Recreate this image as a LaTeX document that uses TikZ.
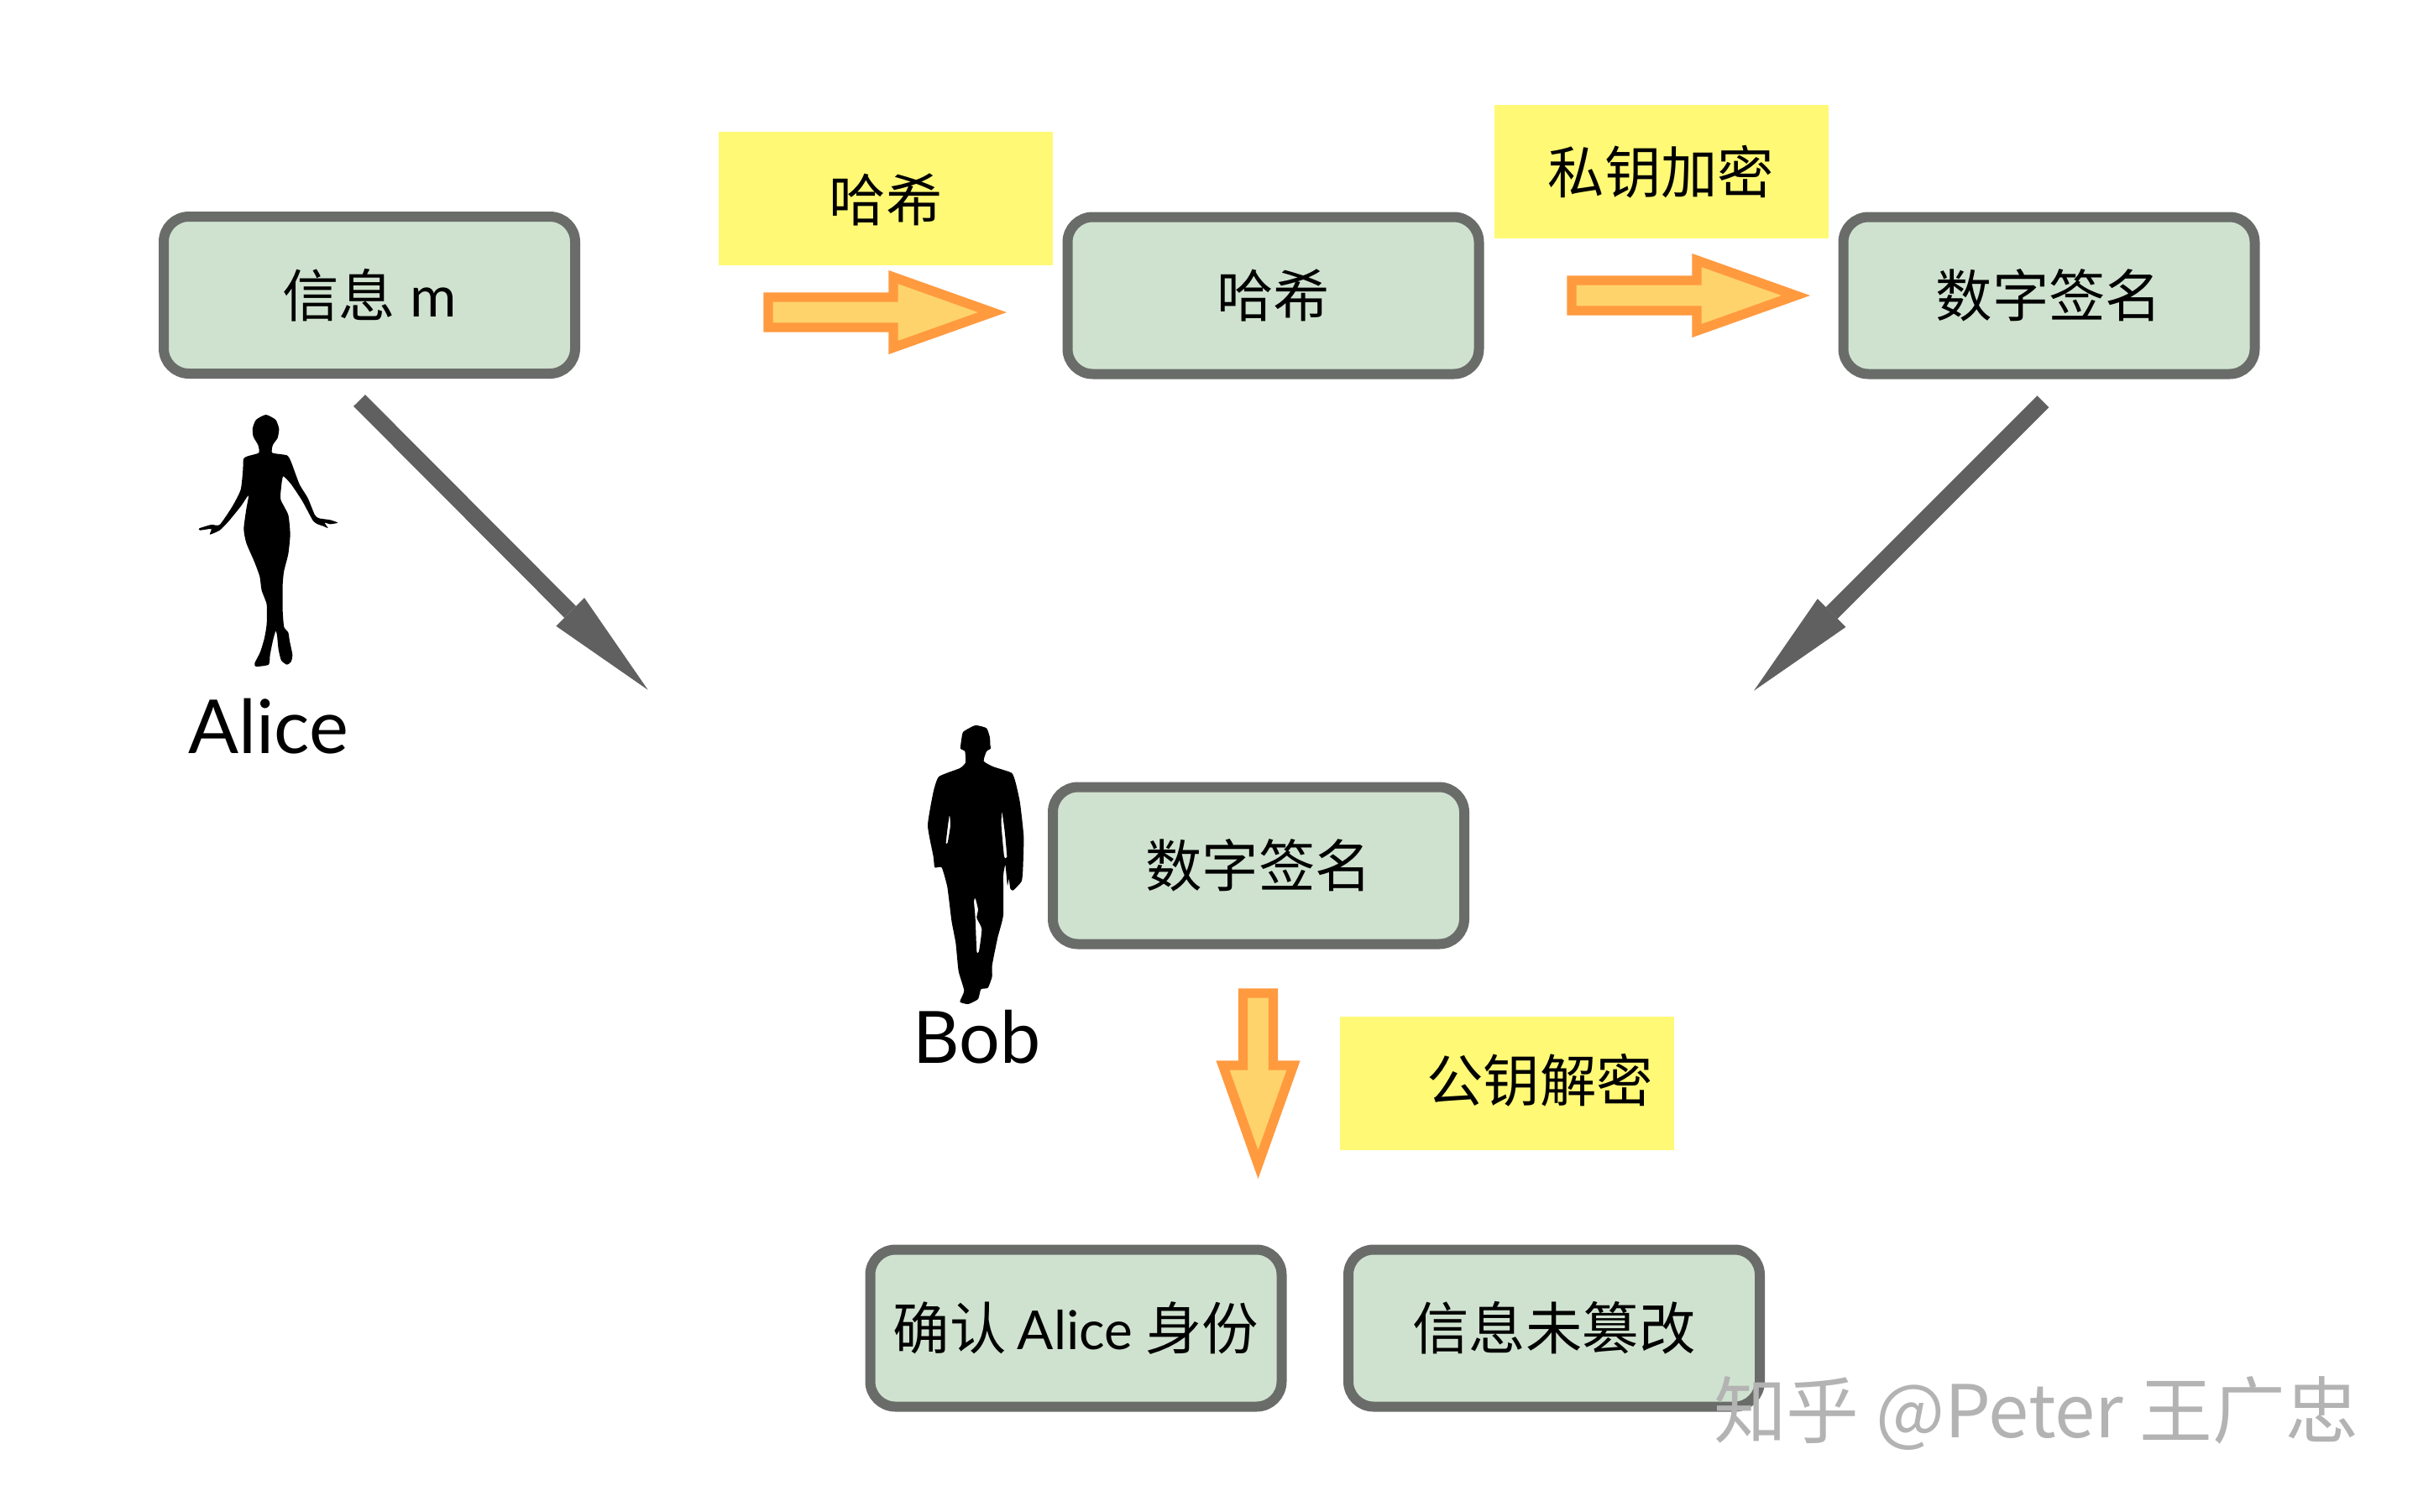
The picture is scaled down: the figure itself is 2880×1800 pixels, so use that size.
\documentclass[tikz,border=0pt]{standalone}
\usepackage{fontspec}
\setmainfont{Lato}
\newfontfamily\cjk{Noto Sans CJK SC}
\usetikzlibrary{arrows.meta}
\definecolor{boxfill}{HTML}{CFE2CF}
\definecolor{boxline}{HTML}{6A6C6A}
\definecolor{notefill}{HTML}{FFF975}
\definecolor{blockline}{HTML}{FF9A3F}
\definecolor{blockfill}{HTML}{FFD36C}
\definecolor{darkarrow}{HTML}{606060}
\definecolor{marktext}{HTML}{B3B3B3}
\tikzset{
  stepbox/.style={draw=boxline,fill=boxfill,line width=3pt,rounded corners=7.5pt,
    minimum width=122.5pt,minimum height=46.75pt,inner sep=0pt,text=black,
    font=\fontsize{16.85pt}{20pt}\selectfont},
  notebox/.style={fill=notefill,minimum width=99.5pt,minimum height=39.75pt,inner sep=0pt,text=black,
    font=\fontsize{16.85pt}{20pt}\selectfont},
  blockarrow/.style={draw=blockline,fill=blockfill,line width=2.85pt,miter limit=10,line join=miter},
  flowarrow/.style={draw=darkarrow,line width=4.9pt,
    -{Triangle[length=32.75pt 0 0,width=11.9pt 0 0,line width=0pt]}},
  personname/.style={anchor=base,text=black,font=\fontsize{22.2pt}{26pt}\selectfont},
  silhouette/.style={fill=black,even odd rule},
  watermark/.style={text=marktext,inner sep=0pt,font=\fontsize{21.7pt}{25pt}\selectfont\cjk}
}
\newcommand{\blockarrowat}[3]{%
  \draw[blockarrow,shift={(#1)},rotate=#3]
    (0,-18) -- (#2-118,-18) -- (#2-118,-42) -- (#2,0) -- (#2-118,42) -- (#2-118,18) -- (0,18) -- cycle;}
\begin{document}
\begin{tikzpicture}[x=0.25pt,y=-0.25pt]
\useasboundingbox (0,0) rectangle (2880,1800);
\fill[white] (0,0) rectangle (2880,1800);

% notes
\node[notebox] (n1) at (1055,236.5) {\raisebox{-0.45pt}[\height][\depth]{\cjk 哈希}};
\node[notebox] (n2) at (1978.5,204.5) {\cjk 私钥加密};
\node[notebox] (n3) at (1795,1290.5) {\hspace*{19.5pt}\raisebox{0.9pt}[\height][\depth]{\cjk 公钥解密}};

% boxes
\node[stepbox] (msg) at (440,351.5) {{\cjk 信息} m};
\node[stepbox] (hash) at (1516.5,352) {\cjk 哈希};
\node[stepbox] (sig) at (2440.5,352) {\cjk 数字签名};
\node[stepbox] (bobsig) at (1499,1031) {\cjk 数字签名};
\node[stepbox] (confirm) at (1281.5,1582) {{\cjk 确认}\hspace{-1pt} {\fontsize{16pt}{20pt}\selectfont Alice} \hspace{-0.5pt}{\cjk 身份}};
\node[stepbox] (intact) at (1851,1582) {\cjk 信息未篡改};

% block arrows
\coordinate (b1) at (915,372);
\coordinate (b2) at (1872,352);
\coordinate (b3) at (1498.5,1183);
\blockarrowat{b1}{267}{0}
\blockarrowat{b2}{267}{0}
\blockarrowat{b3}{204}{-90}

% flow arrows
\coordinate (f1s) at (428,477);
\coordinate (f1e) at (771.7,821.7);
\coordinate (f2s) at (2433.3,478.3);
\coordinate (f2e) at (2089,822.7);
\draw[flowarrow] (f1s) -- (f1e);
\draw[flowarrow] (f2s) -- (f2e);

% Alice
\begin{scope}[shift={(180,480)},scale=0.3333]
\fill[silhouette] plot[smooth cycle,tension=0.35] coordinates {
(410,42)(445,60)(457,92)(452,125)(435,150)(433,178)(485,187)(500,210)(530,290)(560,340)(585,400)(600,412)
(640,418)(667,428)(640,433)(620,428)(632,447)(615,440)(595,433)(578,420)(540,350)(500,290)(472,262)(465,300)
(463,345)(490,400)(497,470)(490,540)(475,600)(470,650)(470,740)(475,800)(490,820)(495,850)(505,900)(500,925)
(485,935)(465,920)(455,880)(450,830)(445,815)(435,850)(425,900)(420,935)(375,942)(370,930)(390,890)(405,840)
(413,790)(413,720)(395,670)(388,620)(370,570)(340,500)(331,450)(340,380)(348,330)(320,370)(275,425)(245,455)
(210,470)(215,450)(175,455)(172,448)(215,435)(245,435)(290,370)(320,310)(328,240)(330,200)(345,190)(385,178)
(382,150)(365,120)(363,90)(375,60)};
\end{scope}

% Bob
\begin{scope}[shift={(1060,850)},scale=0.3333]
\fill[silhouette] plot[smooth cycle,tension=0.3] coordinates {
(305,42)(345,52)(357,85)(358,110)(360,125)(345,135)(335,170)(370,190)(435,212)(450,250)(465,320)(478,440)
(475,560)(470,600)(440,632)(430,625)(425,590)(420,615)(415,565)(412,540)(405,580)(405,720)(385,800)(365,900)(365,940)
(350,980)(325,985)(315,1020)(280,1038)(250,1030)(265,990)(245,920)(235,820)(220,740)(205,620)(185,550)(160,550)
(155,510)(135,400)(155,280)(175,225)(250,195)(270,175)(268,135)(252,125)(255,95)(262,65)}
plot[smooth cycle,tension=0.3] coordinates {(213,362)(216,400)(206,462)(200,462)(207,400)}
plot[smooth cycle,tension=0.3] coordinates {(400,350)(410,420)(418,512)(408,510)(398,400)}
plot[smooth cycle,tension=0.3] coordinates {(305,660)(315,700)(310,730)(328,770)(318,850)(310,850)(305,730)(300,670)};
\end{scope}

% names
\node[personname] (alice) at (320,897) {Alice};
\node[personname,font=\fontsize{21.5pt}{26pt}\selectfont] (bob) at (1163.5,1266) {Bob};

% watermark
\node[watermark] (mark) at (2425,1683) {知乎 @Peter 王广忠};
\end{tikzpicture}
\end{document}
